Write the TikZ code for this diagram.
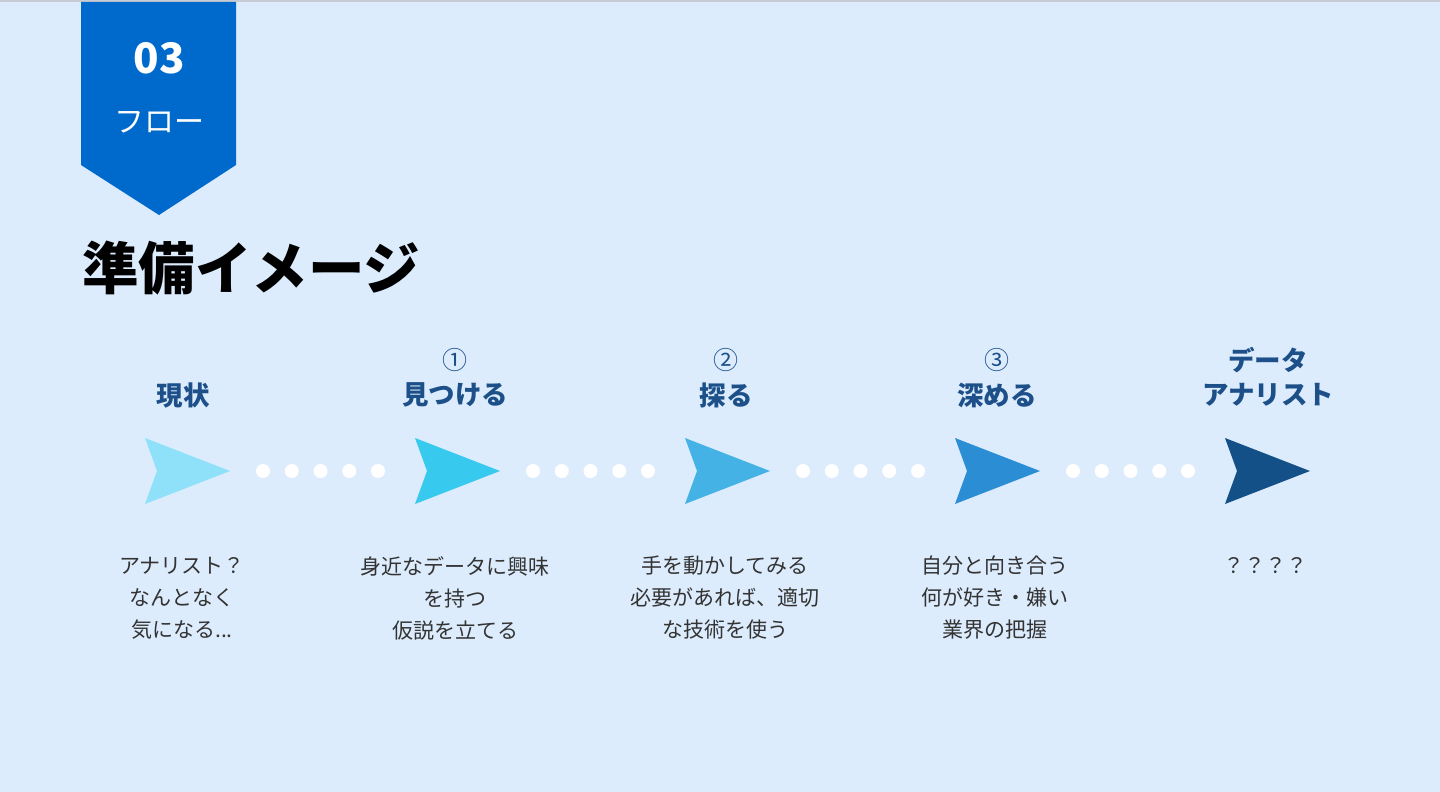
\documentclass[tikz,border=0pt]{standalone}
\usepackage{fontspec}
\setmainfont{Noto Sans CJK JP}
\definecolor{bgc}{HTML}{DCECFD}
\definecolor{topline}{HTML}{C8CCD2}
\definecolor{banner}{HTML}{006ACC}
\definecolor{labelc}{HTML}{1D5089}
\definecolor{descc}{HTML}{333333}
\definecolor{a1}{HTML}{8EE1F8}
\definecolor{a2}{HTML}{38C9EF}
\definecolor{a3}{HTML}{45B2E5}
\definecolor{a4}{HTML}{2B8ED5}
\definecolor{a5}{HTML}{135087}
\tikzset{
  steplabel/.style={text=labelc, font=\bfseries\fontsize{26.5}{30}\selectfont, inner sep=0pt},
  numlabel/.style={text=labelc, font=\fontsize{25}{28}\selectfont, inner sep=0pt},
  desc/.style={text=descc, font=\fontsize{21}{32}\selectfont, align=center, inner sep=0pt},
  dotc/.style={fill=white, draw=none},
}
\begin{document}
\begin{tikzpicture}[x=1pt,y=-1pt]
\useasboundingbox (0,0) rectangle (1440,792);
\fill[bgc] (0,0) rectangle (1440,792);
\fill[topline] (0,0) rectangle (1440,2);
% banner
\fill[banner] (81,2) -- (236,2) -- (236,165) -- (159,215) -- (81,165) -- cycle;
\node[text=white, font=\bfseries\fontsize{42}{46}\selectfont, inner sep=0pt] (num) at (159,58) {03};
\node[text=white, font=\fontsize{30}{34}\selectfont, inner sep=0pt] (flow) at (159,122) {フロー};
% title
\node[anchor=west, text=black, font=\bfseries\fontsize{56.5}{62}\selectfont, inner sep=0pt] (title) at (82,268) {準備イメージ};
% arrows and dots
\foreach \i/\c in {0/a1,1/a2,2/a3,3/a4,4/a5}{
  \fill[\c] ({145+270*\i},438) -- ({230+270*\i},471) -- ({145+270*\i},504) -- ({157+270*\i},471) -- cycle;
}
\foreach \i in {0,1,2,3}{
  \foreach \k in {0,...,4}{
    \fill[dotc] ({263+270*\i+28.75*\k},471) circle (7);
  }
}
% labels
\node[steplabel] (s0) at (183,395) {現状};
\node[numlabel] (n1) at (455,360) {①};
\node[steplabel] (s1) at (455,395) {見つける};
\node[numlabel] (n2) at (726,360) {②};
\node[steplabel] (s2) at (726,395) {探る};
\node[numlabel] (n3) at (997,360) {③};
\node[steplabel] (s3) at (997,395) {深める};
\node[steplabel] (s4a) at (1268,360) {データ};
\node[steplabel] (s4) at (1268,395) {アナリスト};
% descriptions
\node[desc] (d0) at (182,598) {アナリスト？\\なんとなく\\気になる...};
\node[desc] (d1) at (455,598) {身近なデータに興味\\を持つ\\仮説を立てる};
\node[desc] (d2) at (725,598) {手を動かしてみる\\必要があれば、適切\\な技術を使う};
\node[desc] (d3) at (995,598) {自分と向き合う\\何が好き・嫌い\\業界の把握};
\node[desc] (d4) at (1265,566) {？？？？};
\end{tikzpicture}
\end{document}
